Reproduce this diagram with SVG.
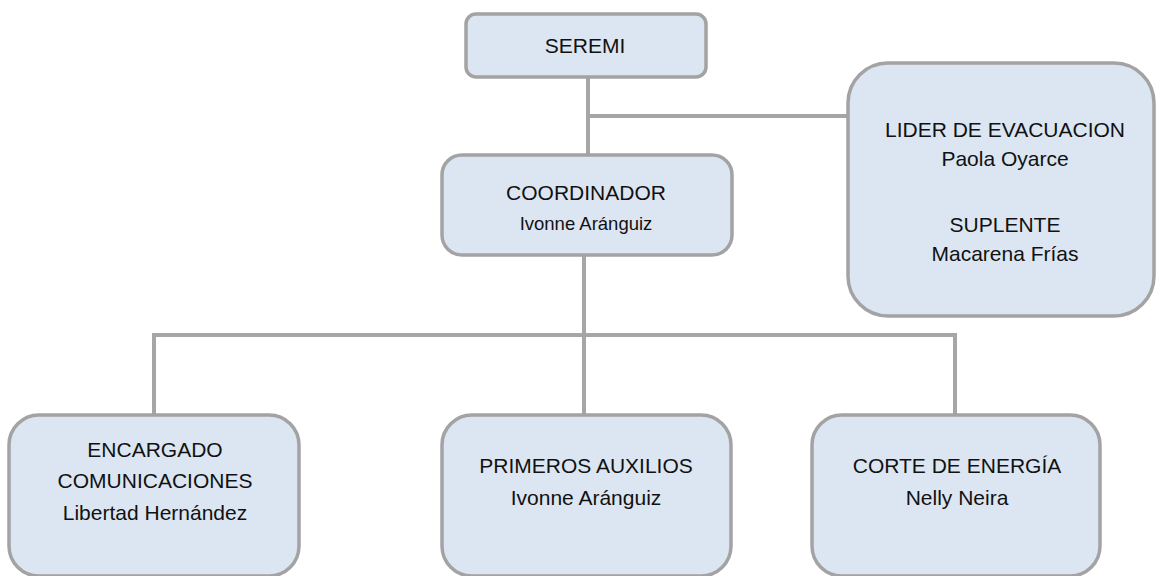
<svg xmlns="http://www.w3.org/2000/svg" width="1156" height="576" viewBox="0 0 1156 576">
<style>
.box{fill:#dce6f2;stroke:#a3a3a3;stroke-width:3.5}
.ln{stroke:#a6a6a6;stroke-width:4;fill:none}
text{font-family:"Liberation Sans",Arial,sans-serif;fill:#111111;text-anchor:middle}
.t{font-size:21px}
.s{font-size:18.5px}
</style>
<rect width="1156" height="576" fill="#ffffff"/>
<g id="connectors">
<line class="ln" x1="588" y1="77" x2="588" y2="155"/>
<line class="ln" x1="586" y1="116" x2="848" y2="116"/>
<line class="ln" x1="584" y1="255" x2="584" y2="415"/>
<polyline class="ln" points="154,415 154,335 955,335 955,415"/>
</g>
<g id="seremi">
<rect class="box" x="466" y="14" width="240" height="63" rx="10"/>
<text class="t" x="585" y="53">SEREMI</text>
</g>
<g id="coordinador">
<rect class="box" x="442" y="155" width="290" height="100" rx="20"/>
<text class="t" x="586" y="200">COORDINADOR</text>
<text class="s" x="586" y="230">Ivonne Aránguiz</text>
</g>
<g id="lider">
<rect class="box" x="848" y="63" width="306" height="253" rx="40"/>
<text class="t" x="1005" y="137">LIDER DE EVACUACION</text>
<text class="t" x="1005" y="166">Paola Oyarce</text>
<text class="t" x="1005" y="232">SUPLENTE</text>
<text class="t" x="1005" y="261">Macarena Frías</text>
</g>
<g id="comunicaciones">
<rect class="box" x="9" y="415" width="290" height="161" rx="30"/>
<text class="t" x="155" y="457">ENCARGADO</text>
<text class="t" x="155" y="488">COMUNICACIONES</text>
<text class="t" x="155" y="520">Libertad Hernández</text>
</g>
<g id="primeros">
<rect class="box" x="442" y="415" width="289" height="161" rx="30"/>
<text class="t" x="586" y="473">PRIMEROS AUXILIOS</text>
<text class="t" x="586" y="505">Ivonne Aránguiz</text>
</g>
<g id="corte">
<rect class="box" x="812" y="415" width="288" height="161" rx="30"/>
<text class="t" x="957" y="473">CORTE DE ENERGÍA</text>
<text class="t" x="957" y="505">Nelly Neira</text>
</g>
</svg>
